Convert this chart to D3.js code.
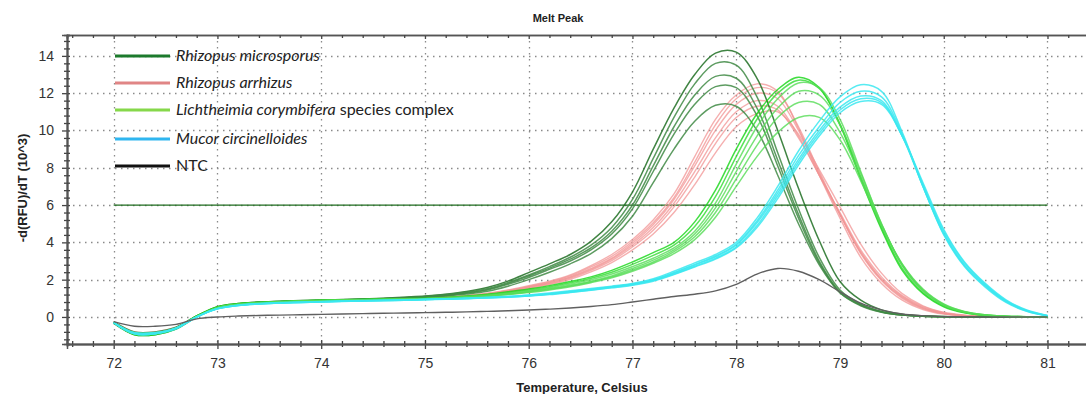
<!DOCTYPE html>
<html>
<head>
<meta charset="utf-8">
<script src="https://cdn.jsdelivr.net/npm/d3@7"></script>
<style>
  body { margin: 0; background: #fff; }
  svg { display: block; font-family: Arial, "Liberation Sans", sans-serif; }
</style>
</head>
<body>
<svg id="melt-chart" width="1086" height="394"></svg>
<script>
// temperature steps of the melt run
const temps = [72.0, 72.2, 72.4, 72.6, 72.8, 73.0, 73.2, 73.4, 73.6, 73.8,
  74.0, 74.2, 74.4, 74.6, 74.8, 75.0, 75.2, 75.4, 75.6, 75.8,
  76.0, 76.2, 76.4, 76.6, 76.8, 77.0, 77.2, 77.4, 77.6, 77.8,
  78.0, 78.2, 78.4, 78.6, 78.8, 79.0, 79.2, 79.4, 79.6, 79.8,
  80.0, 80.2, 80.4, 80.6, 80.8, 81.0];

// -d(RFU)/dT (10^3), one row per well
const rhizopusMicrosporus = [
  [-0.3, -0.9, -0.9, -0.6, 0.05, 0.55, 0.72, 0.8, 0.84, 0.88, 0.9, 0.93, 0.96, 1.0, 1.06, 1.12, 1.22, 1.36, 1.58, 1.92, 2.38, 2.85, 3.35, 4.05, 5.1, 6.7, 9.0, 11.2, 13.0, 14.15, 14.2, 12.8, 10.0, 6.9, 4.1, 1.9, 0.9, 0.38, 0.15, 0.06, 0.02, 0, 0, 0, 0, 0],
  [-0.25, -0.8, -0.8, -0.55, 0.05, 0.5, 0.7, 0.78, 0.83, 0.87, 0.9, 0.92, 0.95, 0.99, 1.04, 1.1, 1.2, 1.33, 1.52, 1.85, 2.25, 2.7, 3.2, 3.85, 4.8, 6.3, 8.5, 10.7, 12.5, 13.6, 13.5, 11.8, 8.8, 5.8, 3.2, 1.45, 0.7, 0.3, 0.12, 0.05, 0.02, 0, 0, 0, 0, 0],
  [-0.35, -0.95, -0.95, -0.65, 0.0, 0.5, 0.7, 0.78, 0.82, 0.86, 0.89, 0.92, 0.95, 0.98, 1.03, 1.08, 1.17, 1.3, 1.48, 1.8, 2.2, 2.62, 3.1, 3.7, 4.6, 6.0, 8.1, 10.2, 11.9, 12.9, 12.8, 11.2, 8.4, 5.5, 3.0, 1.35, 0.66, 0.28, 0.1, 0.04, 0.01, 0, 0, 0, 0, 0],
  [-0.3, -0.85, -0.85, -0.6, 0.02, 0.5, 0.68, 0.76, 0.81, 0.85, 0.88, 0.91, 0.94, 0.97, 1.02, 1.07, 1.15, 1.27, 1.45, 1.75, 2.12, 2.55, 3.0, 3.6, 4.45, 5.8, 7.8, 9.8, 11.4, 12.35, 12.3, 10.8, 8.1, 5.3, 2.9, 1.3, 0.63, 0.27, 0.1, 0.04, 0.01, 0, 0, 0, 0, 0],
  [-0.3, -0.9, -0.9, -0.6, 0.02, 0.5, 0.68, 0.76, 0.8, 0.84, 0.87, 0.9, 0.93, 0.96, 1.0, 1.05, 1.12, 1.23, 1.38, 1.65, 2.0, 2.4, 2.85, 3.4, 4.2, 5.4, 7.2, 9.0, 10.5, 11.35, 11.3, 10.0, 7.6, 5.0, 2.8, 1.3, 0.6, 0.25, 0.1, 0.04, 0.01, 0, 0, 0, 0, 0]
];
const rhizopusArrhizus = [
  [-0.3, -0.85, -0.85, -0.6, 0.02, 0.48, 0.66, 0.74, 0.79, 0.83, 0.86, 0.89, 0.92, 0.95, 0.98, 1.02, 1.08, 1.16, 1.28, 1.45, 1.68, 1.92, 2.25, 2.75, 3.35, 4.15, 5.2, 6.6, 8.6, 10.6, 11.9, 12.5, 12.1, 10.1, 7.6, 5.3, 3.2, 1.8, 0.9, 0.4, 0.15, 0.05, 0.02, 0, 0, 0],
  [-0.25, -0.8, -0.8, -0.55, 0.03, 0.48, 0.66, 0.74, 0.79, 0.83, 0.86, 0.89, 0.92, 0.95, 0.98, 1.01, 1.06, 1.14, 1.25, 1.42, 1.64, 1.88, 2.2, 2.68, 3.25, 4.05, 5.05, 6.4, 8.3, 10.3, 11.7, 12.3, 12.0, 10.2, 7.8, 5.5, 3.4, 1.95, 1.0, 0.45, 0.18, 0.06, 0.02, 0, 0, 0],
  [-0.3, -0.9, -0.9, -0.6, 0.0, 0.47, 0.65, 0.73, 0.78, 0.82, 0.85, 0.88, 0.91, 0.94, 0.97, 1.0, 1.05, 1.12, 1.23, 1.4, 1.62, 1.85, 2.15, 2.6, 3.15, 3.95, 4.95, 6.3, 8.1, 10.0, 11.4, 12.0, 11.7, 10.0, 7.7, 5.5, 3.45, 2.0, 1.05, 0.48, 0.2, 0.07, 0.02, 0, 0, 0],
  [-0.3, -0.85, -0.85, -0.6, 0.02, 0.47, 0.65, 0.73, 0.78, 0.82, 0.85, 0.88, 0.91, 0.94, 0.97, 1.0, 1.05, 1.12, 1.22, 1.38, 1.6, 1.82, 2.12, 2.55, 3.1, 3.85, 4.8, 6.1, 7.8, 9.6, 11.0, 11.6, 11.3, 9.7, 7.6, 5.5, 3.5, 2.05, 1.1, 0.5, 0.2, 0.08, 0.03, 0, 0, 0],
  [-0.3, -0.9, -0.9, -0.6, 0.0, 0.46, 0.64, 0.72, 0.77, 0.81, 0.84, 0.87, 0.9, 0.93, 0.96, 0.99, 1.04, 1.1, 1.2, 1.35, 1.56, 1.78, 2.08, 2.5, 3.02, 3.75, 4.65, 5.9, 7.5, 9.3, 10.7, 11.3, 11.1, 9.6, 7.6, 5.6, 3.6, 2.15, 1.15, 0.55, 0.22, 0.08, 0.03, 0.01, 0, 0],
  [-0.3, -0.85, -0.85, -0.6, 0.0, 0.46, 0.64, 0.72, 0.77, 0.81, 0.84, 0.87, 0.9, 0.93, 0.96, 0.99, 1.03, 1.09, 1.18, 1.32, 1.52, 1.74, 2.02, 2.42, 2.92, 3.6, 4.45, 5.6, 7.1, 8.8, 10.2, 10.9, 11.0, 9.8, 7.9, 5.9, 3.9, 2.35, 1.25, 0.6, 0.25, 0.1, 0.03, 0.01, 0, 0]
];
const lichtheimia = [
  [-0.3, -0.95, -0.95, -0.65, 0.05, 0.55, 0.72, 0.79, 0.83, 0.87, 0.9, 0.92, 0.94, 0.96, 0.98, 1.0, 1.05, 1.12, 1.22, 1.35, 1.5, 1.68, 1.9, 2.15, 2.5, 2.95, 3.45, 4.0, 5.1, 6.8, 9.0, 10.9, 12.2, 12.85, 12.3, 10.3, 7.4, 4.7, 2.5, 1.25, 0.55, 0.22, 0.08, 0.03, 0.01, 0],
  [-0.3, -0.9, -0.9, -0.6, 0.04, 0.52, 0.7, 0.77, 0.82, 0.86, 0.89, 0.91, 0.93, 0.95, 0.97, 0.99, 1.03, 1.1, 1.19, 1.31, 1.45, 1.62, 1.83, 2.08, 2.4, 2.82, 3.3, 3.85, 4.85, 6.45, 8.6, 10.6, 12.0, 12.7, 12.25, 10.35, 7.5, 4.8, 2.6, 1.3, 0.58, 0.24, 0.09, 0.03, 0.01, 0],
  [-0.3, -0.85, -0.85, -0.6, 0.03, 0.5, 0.68, 0.76, 0.81, 0.85, 0.88, 0.9, 0.92, 0.94, 0.96, 0.98, 1.02, 1.08, 1.16, 1.27, 1.41, 1.57, 1.77, 2.0, 2.3, 2.7, 3.15, 3.7, 4.6, 6.1, 8.2, 10.2, 11.7, 12.55, 12.3, 10.6, 7.8, 5.0, 2.75, 1.38, 0.62, 0.26, 0.1, 0.04, 0.01, 0],
  [-0.3, -0.9, -0.9, -0.6, 0.02, 0.5, 0.68, 0.76, 0.81, 0.85, 0.88, 0.9, 0.92, 0.94, 0.96, 0.98, 1.01, 1.07, 1.14, 1.24, 1.37, 1.52, 1.7, 1.92, 2.2, 2.6, 3.05, 3.6, 4.45, 5.85, 7.8, 9.7, 11.2, 12.1, 11.9, 10.3, 7.7, 5.0, 2.8, 1.42, 0.65, 0.27, 0.1, 0.04, 0.01, 0],
  [-0.3, -0.85, -0.85, -0.6, 0.02, 0.5, 0.67, 0.75, 0.8, 0.84, 0.87, 0.89, 0.91, 0.93, 0.95, 0.97, 1.0, 1.05, 1.12, 1.22, 1.34, 1.48, 1.66, 1.88, 2.15, 2.52, 2.95, 3.5, 4.3, 5.6, 7.4, 9.2, 10.7, 11.5, 11.4, 9.9, 7.5, 4.9, 2.8, 1.45, 0.67, 0.28, 0.11, 0.04, 0.01, 0],
  [-0.3, -0.9, -0.9, -0.6, 0.02, 0.5, 0.67, 0.75, 0.8, 0.84, 0.87, 0.89, 0.91, 0.93, 0.95, 0.97, 1.0, 1.04, 1.1, 1.2, 1.31, 1.45, 1.62, 1.84, 2.1, 2.45, 2.88, 3.4, 4.15, 5.35, 7.0, 8.6, 9.9, 10.7, 10.7, 9.5, 7.3, 4.9, 2.85, 1.5, 0.7, 0.3, 0.12, 0.04, 0.01, 0]
];
const mucor = [
  [-0.3, -0.9, -0.9, -0.65, 0.0, 0.45, 0.64, 0.72, 0.77, 0.8, 0.83, 0.86, 0.88, 0.9, 0.92, 0.95, 0.98, 1.02, 1.06, 1.11, 1.18, 1.28, 1.4, 1.52, 1.65, 1.8, 2.05, 2.45, 2.9, 3.35, 4.0, 5.3, 7.0, 8.9, 10.5, 11.8, 12.45, 12.1, 9.9, 7.0, 4.4, 2.7, 1.6, 0.78, 0.3, 0.05],
  [-0.3, -0.85, -0.85, -0.6, 0.0, 0.45, 0.63, 0.71, 0.76, 0.79, 0.82, 0.85, 0.87, 0.89, 0.91, 0.94, 0.97, 1.0, 1.04, 1.09, 1.16, 1.25, 1.37, 1.49, 1.62, 1.77, 2.0, 2.38, 2.82, 3.27, 3.9, 5.15, 6.8, 8.65, 10.2, 11.5, 12.1, 11.8, 9.8, 7.0, 4.45, 2.75, 1.65, 0.82, 0.32, 0.06],
  [-0.3, -0.9, -0.9, -0.6, 0.0, 0.44, 0.62, 0.7, 0.75, 0.78, 0.81, 0.84, 0.86, 0.88, 0.9, 0.93, 0.96, 0.99, 1.03, 1.08, 1.14, 1.23, 1.35, 1.47, 1.6, 1.75, 1.98, 2.35, 2.78, 3.22, 3.85, 5.05, 6.65, 8.45, 10.0, 11.25, 11.85, 11.6, 9.7, 7.0, 4.5, 2.8, 1.7, 0.85, 0.34, 0.07],
  [-0.3, -0.85, -0.85, -0.6, 0.0, 0.44, 0.62, 0.7, 0.75, 0.78, 0.81, 0.84, 0.86, 0.88, 0.9, 0.93, 0.96, 0.99, 1.03, 1.07, 1.13, 1.22, 1.33, 1.45, 1.58, 1.72, 1.95, 2.3, 2.72, 3.15, 3.75, 4.9, 6.5, 8.3, 9.85, 11.1, 11.7, 11.5, 9.7, 7.1, 4.6, 2.9, 1.75, 0.88, 0.35, 0.07],
  [-0.3, -0.9, -0.9, -0.6, 0.0, 0.44, 0.62, 0.7, 0.74, 0.77, 0.8, 0.83, 0.85, 0.87, 0.89, 0.92, 0.95, 0.98, 1.02, 1.06, 1.12, 1.2, 1.31, 1.43, 1.56, 1.7, 1.92, 2.27, 2.68, 3.1, 3.7, 4.8, 6.35, 8.15, 9.7, 10.95, 11.55, 11.4, 9.7, 7.2, 4.7, 2.95, 1.8, 0.92, 0.37, 0.08]
];
const ntc = [
  [-0.25, -0.5, -0.5, -0.4, -0.1, 0.0, 0.05, 0.08, 0.1, 0.12, 0.14, 0.16, 0.18, 0.2, 0.21, 0.23, 0.25, 0.27, 0.3, 0.33, 0.37, 0.42, 0.48, 0.56, 0.66, 0.8, 0.95, 1.1, 1.22, 1.4, 1.75, 2.3, 2.6, 2.45, 2.0, 1.35, 0.74, 0.38, 0.16, 0.07, 0.02, 0.01, 0, 0, 0, 0]
];

const threshold = 6;
const xTicks = [72, 73, 74, 75, 76, 77, 78, 79, 80, 81];
const yTicks = [0, 2, 4, 6, 8, 10, 12, 14];
const legendNames = ['Rhizopus microsporus', 'Rhizopus arrhizus', 'Lichtheimia corymbifera', 'Mucor circinelloides', 'NTC'];

const svg = d3.select('#melt-chart'),
  margin = {top: 35, right: 0, bottom: 50, left: 67},
  width = +svg.attr('width'),
  height = +svg.attr('height'),
  bottomY = height - margin.bottom;

const x = d3.scaleLinear().domain([71.55, 81.4]).range([margin.left, 1089]);
const y = d3.scaleLinear().domain([-1.45, 15.12]).range([bottomY, margin.top]);

// dotted grid
const grid = svg.append('g')
  .attr('stroke', '#8a8a8a')
  .attr('stroke-width', 1.3)
  .attr('stroke-dasharray', '1.5,4.5');
grid.selectAll('.vx').data(xTicks).enter().append('line')
  .attr('x1', d => Math.round(x(d)) + 0.5).attr('x2', d => Math.round(x(d)) + 0.5)
  .attr('y1', margin.top).attr('y2', bottomY);
grid.selectAll('.hy').data(yTicks).enter().append('line')
  .attr('x1', margin.left).attr('x2', width)
  .attr('y1', d => Math.round(y(d)) + 0.5).attr('y2', d => Math.round(y(d)) + 0.5);

// threshold
svg.append('line')
  .attr('x1', x(72)).attr('x2', x(81))
  .attr('y1', y(threshold)).attr('y2', y(threshold))
  .attr('stroke', '#1d6b1d')
  .attr('stroke-width', 1.3);

const line1 = d3.line()
  .x((d, i) => x(temps[i]))
  .y(d => y(d))
  .curve(d3.curveCatmullRom.alpha(0.5));

function drawGroup(rows, colors, widthPx, opacity) {
  svg.append('g').selectAll('path')
    .data(rows).enter().append('path')
    .attr('fill', 'none')
    .attr('stroke', (d, i) => colors[Math.min(i, colors.length - 1)])
    .attr('stroke-width', widthPx)
    .attr('stroke-opacity', opacity)
    .attr('stroke-linejoin', 'round')
    .attr('d', line1);
}

drawGroup(rhizopusArrhizus, ['#f29494'], 1.4, 0.75);
drawGroup(rhizopusMicrosporus, ['#1f6e22', '#3f8a44'], 1.5, 0.85);
drawGroup(lichtheimia, ['#13d613', '#2edc2e', '#55dc55'], 1.5, 0.8);
drawGroup(mucor, ['#3ae8f0'], 1.5, 0.85);
drawGroup(ntc, ['#606060'], 1.4, 1);

// axes: ticks cross the axis lines
const minorX = d3.range(71.6, 81.45, 0.2).map(v => +v.toFixed(1)).filter(v => xTicks.indexOf(v) < 0);
const minorY = d3.range(-1.2, 15.1, 0.4).map(v => +v.toFixed(1)).filter(v => yTicks.indexOf(v) < 0);

function styleAxis(g) {
  g.select('.domain').attr('stroke', '#555').attr('stroke-width', 1.5);
  g.selectAll('.tick line').attr('stroke', '#444').attr('stroke-width', 1.3);
  g.selectAll('text').attr('fill', '#333').style('font-size', '14px');
}

[d3.axisBottom, d3.axisTop].forEach((ax, k) => {
  svg.append('g').attr('transform', 'translate(0,' + bottomY + ')')
    .call(ax(x).tickValues(xTicks).tickSize(k ? 4 : 5).tickPadding(9).tickFormat(k ? '' : d3.format('d')))
    .call(styleAxis);
  svg.append('g').attr('transform', 'translate(0,' + bottomY + ')')
    .call(ax(x).tickValues(minorX).tickSize(3).tickFormat(''))
    .call(styleAxis);
});
[d3.axisLeft, d3.axisRight].forEach((ax, k) => {
  svg.append('g').attr('transform', 'translate(' + margin.left + ',0)')
    .call(ax(y).tickValues(yTicks).tickSize(k ? 3 : 5).tickPadding(8).tickFormat(k ? '' : d3.format('d')))
    .call(styleAxis);
  svg.append('g').attr('transform', 'translate(' + margin.left + ',0)')
    .call(ax(y).tickValues(minorY).tickSize(3).tickFormat(''))
    .call(styleAxis);
});
// top frame
svg.append('g').attr('transform', 'translate(0,' + margin.top + ')')
  .call(d3.axisBottom(x).tickValues(xTicks).tickSize(4).tickFormat(''))
  .call(styleAxis);
svg.append('g').attr('transform', 'translate(0,' + margin.top + ')')
  .call(d3.axisBottom(x).tickValues(minorX).tickSize(3).tickFormat(''))
  .call(styleAxis);

// titles
svg.append('text')
  .attr('x', 558).attr('y', 22)
  .attr('text-anchor', 'middle')
  .style('font-size', '11px').style('font-weight', 'bold')
  .attr('fill', '#222')
  .text('Melt Peak');
svg.append('text')
  .attr('x', 582).attr('y', 392)
  .attr('text-anchor', 'middle')
  .style('font-size', '13px').style('font-weight', 'bold')
  .attr('fill', '#222')
  .text('Temperature, Celsius');
svg.append('text')
  .attr('transform', 'translate(27,' + 188 + ')rotate(-90)')
  .attr('text-anchor', 'middle')
  .style('font-size', '13px').style('font-weight', 'bold')
  .attr('fill', '#222')
  .text('-d(RFU)/dT (10^3)');

// legend
const legendColors = ['#1c7a2c', '#e08585', '#86d84a', '#2fb6f0', '#111'];
const legendY = [56, 83, 110, 139, 166];
const legend = svg.append('g');
legendNames.forEach((name, i) => {
  legend.append('line')
    .attr('x1', 115).attr('x2', 170)
    .attr('y1', legendY[i]).attr('y2', legendY[i])
    .attr('stroke', legendColors[i]).attr('stroke-width', 3);
  const t = legend.append('text')
    .attr('x', 176).attr('y', legendY[i] + 5)
    .attr('fill', '#222')
    .style('font-family', 'Lato, "Open Sans", sans-serif')
    .style('font-size', '16px');
  t.append('tspan').style('font-style', name === 'NTC' ? 'normal' : 'italic').text(name);
  if (i === 2) t.append('tspan').text(' species complex');
});
</script>
</body>
</html>
